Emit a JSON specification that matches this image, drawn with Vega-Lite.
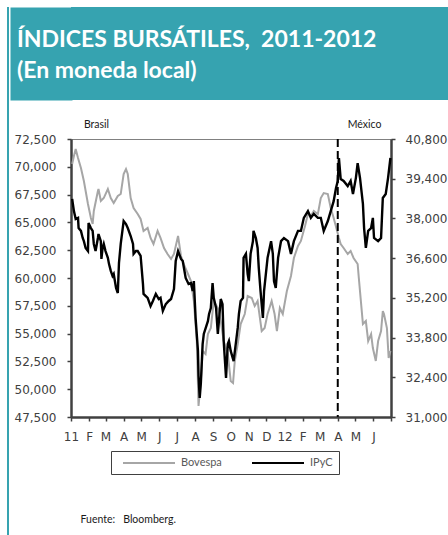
{
  "$schema": "https://vega.github.io/schema/vega-lite/v6.json",
  "background": "white",
  "padding": {"left": 7, "top": 7, "right": 0, "bottom": 0},
  "datasets": {
    "encabezado": [
      {"linea": 1, "texto": "ÍNDICES BURSÁTILES,\u00a0 2011-2012"},
      {"linea": 2, "texto": "(En moneda local)"}
    ],
    "bovespa": [
      {"fecha": "2011/01/03", "valor": 70250}, {"fecha": "2011/01/06", "valor": 70970}, {"fecha": "2011/01/09", "valor": 71600}, {"fecha": "2011/01/13", "valor": 70790},
      {"fecha": "2011/01/18", "valor": 69890}, {"fecha": "2011/01/23", "valor": 68720}, {"fecha": "2011/01/30", "valor": 66660}, {"fecha": "2011/02/04", "valor": 65400},
      {"fecha": "2011/02/07", "valor": 64860}, {"fecha": "2011/02/09", "valor": 66030}, {"fecha": "2011/02/16", "valor": 67820}, {"fecha": "2011/02/17", "valor": 68000},
      {"fecha": "2011/02/21", "valor": 66920}, {"fecha": "2011/02/26", "valor": 67190}, {"fecha": "2011/03/05", "valor": 68000}, {"fecha": "2011/03/10", "valor": 67190},
      {"fecha": "2011/03/15", "valor": 66740}, {"fecha": "2011/03/22", "valor": 67370}, {"fecha": "2011/03/27", "valor": 67550}, {"fecha": "2011/04/01", "valor": 69350},
      {"fecha": "2011/04/05", "valor": 69800}, {"fecha": "2011/04/08", "valor": 69350}, {"fecha": "2011/04/13", "valor": 67190}, {"fecha": "2011/04/18", "valor": 66300},
      {"fecha": "2011/04/25", "valor": 65760}, {"fecha": "2011/04/30", "valor": 65310}, {"fecha": "2011/05/05", "valor": 64230}, {"fecha": "2011/05/12", "valor": 64500},
      {"fecha": "2011/05/17", "valor": 63600}, {"fecha": "2011/05/22", "valor": 63060}, {"fecha": "2011/05/29", "valor": 64230}, {"fecha": "2011/06/03", "valor": 63600},
      {"fecha": "2011/06/09", "valor": 62700}, {"fecha": "2011/06/15", "valor": 62160}, {"fecha": "2011/06/21", "valor": 61710}, {"fecha": "2011/06/26", "valor": 62160},
      {"fecha": "2011/07/03", "valor": 63780}, {"fecha": "2011/07/08", "valor": 61980}, {"fecha": "2011/07/14", "valor": 61080}, {"fecha": "2011/07/20", "valor": 60360},
      {"fecha": "2011/07/25", "valor": 59730}, {"fecha": "2011/07/30", "valor": 57930}, {"fecha": "2011/08/04", "valor": 54330}, {"fecha": "2011/08/07", "valor": 48490},
      {"fecha": "2011/08/11", "valor": 50740}, {"fecha": "2011/08/14", "valor": 53440}, {"fecha": "2011/08/19", "valor": 53170}, {"fecha": "2011/08/23", "valor": 54960},
      {"fecha": "2011/08/28", "valor": 55500}, {"fecha": "2011/09/02", "valor": 57930}, {"fecha": "2011/09/09", "valor": 57300}, {"fecha": "2011/09/14", "valor": 56130},
      {"fecha": "2011/09/19", "valor": 54330}, {"fecha": "2011/09/26", "valor": 53170}, {"fecha": "2011/10/01", "valor": 50740}, {"fecha": "2011/10/05", "valor": 50560},
      {"fecha": "2011/10/08", "valor": 52540}, {"fecha": "2011/10/13", "valor": 54060}, {"fecha": "2011/10/18", "valor": 55860}, {"fecha": "2011/10/25", "valor": 56760},
      {"fecha": "2011/10/30", "valor": 58380}, {"fecha": "2011/11/06", "valor": 58200}, {"fecha": "2011/11/11", "valor": 57480}, {"fecha": "2011/11/16", "valor": 57930},
      {"fecha": "2011/11/23", "valor": 55230}, {"fecha": "2011/11/28", "valor": 55500}, {"fecha": "2011/12/03", "valor": 56760}, {"fecha": "2011/12/10", "valor": 57930},
      {"fecha": "2011/12/15", "valor": 56760}, {"fecha": "2011/12/19", "valor": 55230}, {"fecha": "2011/12/24", "valor": 57300}, {"fecha": "2011/12/29", "valor": 56760},
      {"fecha": "2012/01/05", "valor": 58830}, {"fecha": "2012/01/12", "valor": 60180}, {"fecha": "2012/01/17", "valor": 61800}, {"fecha": "2012/01/24", "valor": 62880},
      {"fecha": "2012/01/29", "valor": 63330}, {"fecha": "2012/02/05", "valor": 64680}, {"fecha": "2012/02/10", "valor": 65760}, {"fecha": "2012/02/15", "valor": 65580},
      {"fecha": "2012/02/20", "valor": 66030}, {"fecha": "2012/02/27", "valor": 65760}, {"fecha": "2012/03/03", "valor": 67190}, {"fecha": "2012/03/08", "valor": 67640},
      {"fecha": "2012/03/15", "valor": 67550}, {"fecha": "2012/03/20", "valor": 66300}, {"fecha": "2012/03/25", "valor": 65400}, {"fecha": "2012/03/30", "valor": 64410},
      {"fecha": "2012/04/03", "valor": 63600}, {"fecha": "2012/04/06", "valor": 63060}, {"fecha": "2012/04/11", "valor": 62700}, {"fecha": "2012/04/18", "valor": 62160},
      {"fecha": "2012/04/23", "valor": 62430}, {"fecha": "2012/04/28", "valor": 61800}, {"fecha": "2012/05/05", "valor": 61260}, {"fecha": "2012/05/07", "valor": 60000},
      {"fecha": "2012/05/14", "valor": 55860}, {"fecha": "2012/05/19", "valor": 56130}, {"fecha": "2012/05/23", "valor": 54330}, {"fecha": "2012/05/28", "valor": 54960},
      {"fecha": "2012/05/31", "valor": 53700}, {"fecha": "2012/06/05", "valor": 52540}, {"fecha": "2012/06/09", "valor": 54330}, {"fecha": "2012/06/14", "valor": 55230},
      {"fecha": "2012/06/17", "valor": 57030}, {"fecha": "2012/06/19", "valor": 56760}, {"fecha": "2012/06/24", "valor": 55500}, {"fecha": "2012/06/27", "valor": 52810},
      {"fecha": "2012/06/30", "valor": 53440}
    ],
    "ipyc": [
      {"fecha": "2011/01/03", "valor": 38690}, {"fecha": "2011/01/04", "valor": 38540}, {"fecha": "2011/01/06", "valor": 38260}, {"fecha": "2011/01/09", "valor": 37980},
      {"fecha": "2011/01/13", "valor": 38020}, {"fecha": "2011/01/14", "valor": 37660}, {"fecha": "2011/01/18", "valor": 37560}, {"fecha": "2011/01/21", "valor": 37310},
      {"fecha": "2011/01/23", "valor": 37200}, {"fecha": "2011/01/26", "valor": 36960}, {"fecha": "2011/01/30", "valor": 36850}, {"fecha": "2011/01/31", "valor": 37840},
      {"fecha": "2011/02/04", "valor": 37660}, {"fecha": "2011/02/07", "valor": 37560}, {"fecha": "2011/02/09", "valor": 37100}, {"fecha": "2011/02/12", "valor": 36850},
      {"fecha": "2011/02/16", "valor": 37310}, {"fecha": "2011/02/17", "valor": 37450}, {"fecha": "2011/02/21", "valor": 37200}, {"fecha": "2011/02/22", "valor": 36570},
      {"fecha": "2011/02/24", "valor": 36960}, {"fecha": "2011/02/26", "valor": 37100}, {"fecha": "2011/03/01", "valor": 36850}, {"fecha": "2011/03/05", "valor": 36610},
      {"fecha": "2011/03/07", "valor": 36390}, {"fecha": "2011/03/10", "valor": 36150}, {"fecha": "2011/03/13", "valor": 35970}, {"fecha": "2011/03/15", "valor": 36040},
      {"fecha": "2011/03/19", "valor": 35550}, {"fecha": "2011/03/22", "valor": 35370}, {"fecha": "2011/03/24", "valor": 36430}, {"fecha": "2011/03/27", "valor": 37100},
      {"fecha": "2011/04/01", "valor": 37910}, {"fecha": "2011/04/05", "valor": 37800}, {"fecha": "2011/04/08", "valor": 37660}, {"fecha": "2011/04/13", "valor": 37380},
      {"fecha": "2011/04/17", "valor": 37100}, {"fecha": "2011/04/18", "valor": 36750}, {"fecha": "2011/04/22", "valor": 36850}, {"fecha": "2011/04/25", "valor": 36850},
      {"fecha": "2011/04/30", "valor": 36680}, {"fecha": "2011/05/04", "valor": 35690}, {"fecha": "2011/05/05", "valor": 35340}, {"fecha": "2011/05/12", "valor": 35200},
      {"fecha": "2011/05/17", "valor": 34910}, {"fecha": "2011/05/21", "valor": 35090}, {"fecha": "2011/05/26", "valor": 35340}, {"fecha": "2011/05/31", "valor": 35160},
      {"fecha": "2011/06/03", "valor": 35200}, {"fecha": "2011/06/07", "valor": 34740}, {"fecha": "2011/06/12", "valor": 34980}, {"fecha": "2011/06/17", "valor": 35090},
      {"fecha": "2011/06/21", "valor": 35160}, {"fecha": "2011/06/26", "valor": 35510}, {"fecha": "2011/06/29", "valor": 36500}, {"fecha": "2011/07/03", "valor": 36850},
      {"fecha": "2011/07/08", "valor": 36570}, {"fecha": "2011/07/11", "valor": 36500}, {"fecha": "2011/07/16", "valor": 35900}, {"fecha": "2011/07/21", "valor": 35690},
      {"fecha": "2011/07/25", "valor": 35720}, {"fecha": "2011/07/28", "valor": 35440}, {"fecha": "2011/07/30", "valor": 35790}, {"fecha": "2011/08/02", "valor": 34490},
      {"fecha": "2011/08/06", "valor": 33330}, {"fecha": "2011/08/07", "valor": 32450}, {"fecha": "2011/08/09", "valor": 31670}, {"fecha": "2011/08/11", "valor": 32200},
      {"fecha": "2011/08/14", "valor": 33570}, {"fecha": "2011/08/16", "valor": 33930}, {"fecha": "2011/08/23", "valor": 34380}, {"fecha": "2011/08/25", "valor": 34630},
      {"fecha": "2011/08/28", "valor": 34840}, {"fecha": "2011/08/31", "valor": 35720}, {"fecha": "2011/09/02", "valor": 35200}, {"fecha": "2011/09/06", "valor": 34840},
      {"fecha": "2011/09/09", "valor": 33930}, {"fecha": "2011/09/14", "valor": 35160}, {"fecha": "2011/09/17", "valor": 34980}, {"fecha": "2011/09/19", "valor": 33680},
      {"fecha": "2011/09/23", "valor": 32380}, {"fecha": "2011/09/26", "valor": 33570}, {"fecha": "2011/09/28", "valor": 33680}, {"fecha": "2011/10/01", "valor": 33330},
      {"fecha": "2011/10/06", "valor": 32970}, {"fecha": "2011/10/13", "valor": 34140}, {"fecha": "2011/10/15", "valor": 34630}, {"fecha": "2011/10/18", "valor": 35090},
      {"fecha": "2011/10/22", "valor": 35200}, {"fecha": "2011/10/23", "valor": 36610}, {"fecha": "2011/10/27", "valor": 36750}, {"fecha": "2011/10/30", "valor": 36040},
      {"fecha": "2011/11/01", "valor": 35790}, {"fecha": "2011/11/04", "valor": 36750}, {"fecha": "2011/11/08", "valor": 37200}, {"fecha": "2011/11/09", "valor": 37560},
      {"fecha": "2011/11/13", "valor": 37310}, {"fecha": "2011/11/16", "valor": 36960}, {"fecha": "2011/11/18", "valor": 36250}, {"fecha": "2011/11/21", "valor": 35440},
      {"fecha": "2011/11/25", "valor": 34490}, {"fecha": "2011/11/27", "valor": 35440}, {"fecha": "2011/12/03", "valor": 36610}, {"fecha": "2011/12/09", "valor": 37200},
      {"fecha": "2011/12/12", "valor": 36750}, {"fecha": "2011/12/14", "valor": 35790}, {"fecha": "2011/12/17", "valor": 35550}, {"fecha": "2011/12/21", "valor": 36610},
      {"fecha": "2011/12/26", "valor": 37200}, {"fecha": "2011/12/31", "valor": 37310}, {"fecha": "2012/01/07", "valor": 37200}, {"fecha": "2012/01/12", "valor": 36750},
      {"fecha": "2012/01/17", "valor": 37200}, {"fecha": "2012/01/24", "valor": 37560}, {"fecha": "2012/01/29", "valor": 37560}, {"fecha": "2012/02/03", "valor": 38020},
      {"fecha": "2012/02/10", "valor": 38260}, {"fecha": "2012/02/15", "valor": 38020}, {"fecha": "2012/02/20", "valor": 38160}, {"fecha": "2012/02/27", "valor": 38020},
      {"fecha": "2012/03/03", "valor": 38020}, {"fecha": "2012/03/08", "valor": 37560}, {"fecha": "2012/03/15", "valor": 37910}, {"fecha": "2012/03/20", "valor": 38260},
      {"fecha": "2012/03/25", "valor": 38610}, {"fecha": "2012/03/29", "valor": 39070}, {"fecha": "2012/04/01", "valor": 39320}, {"fecha": "2012/04/03", "valor": 40130},
      {"fecha": "2012/04/06", "valor": 39390}, {"fecha": "2012/04/11", "valor": 39320}, {"fecha": "2012/04/18", "valor": 39140}, {"fecha": "2012/04/23", "valor": 39320},
      {"fecha": "2012/04/27", "valor": 38860}, {"fecha": "2012/05/02", "valor": 39430}, {"fecha": "2012/05/05", "valor": 39950}, {"fecha": "2012/05/09", "valor": 39430},
      {"fecha": "2012/05/14", "valor": 38510}, {"fecha": "2012/05/16", "valor": 37660}, {"fecha": "2012/05/19", "valor": 36960}, {"fecha": "2012/05/23", "valor": 37560},
      {"fecha": "2012/05/28", "valor": 37660}, {"fecha": "2012/05/31", "valor": 38020}, {"fecha": "2012/06/02", "valor": 37310}, {"fecha": "2012/06/09", "valor": 37200},
      {"fecha": "2012/06/14", "valor": 37310}, {"fecha": "2012/06/17", "valor": 38720}, {"fecha": "2012/06/22", "valor": 38860}, {"fecha": "2012/06/26", "valor": 39430},
      {"fecha": "2012/06/30", "valor": 40130}
    ],
    "marca": [{"fecha": "2012/04/01"}]
  },
  "hconcat": [
    {
      "width": 2,
      "height": 528,
      "view": {"stroke": null, "fill": "#36A3B0"},
      "data": {"values": [{}]},
      "mark": {"type": "rect", "color": "#36A3B0"}
    },
    {
      "concat": [
        {
          "width": 378,
          "height": 93,
          "view": {"stroke": null, "fill": "#36A3B0"},
          "data": {"name": "encabezado"},
          "mark": {"type": "text", "align": "left", "baseline": "alphabetic", "dx": -54, "font": "Lato", "fontSize": 23, "fontWeight": "bold", "color": "white"},
          "encoding": {
            "x": {"datum": 0, "type": "quantitative", "scale": {"domain": [0, 1]}, "axis": null},
            "y": {
              "field": "linea",
              "type": "ordinal",
              "scale": {"type": "point", "padding": 1.222, "align": 0.6515},
              "axis": {
                "orient": "left",
                "title": null,
                "labels": false,
                "ticks": false,
                "grid": false,
                "domain": true,
                "domainColor": "#36A3B0",
                "domainWidth": 62,
                "domainCap": "butt",
                "offset": 30
              }
            },
            "text": {"field": "texto"}
          }
        },
        {
          "width": 320,
          "height": 278,
          "encoding": {
            "x": {
              "field": "fecha",
              "type": "temporal",
              "scale": {"domain": [{"year": 2011, "month": 1, "date": 1}, {"year": 2012, "month": 7, "date": 1}], "nice": false},
              "axis": {
                "title": "Fuente:\u00a0\u00a0 Bloomberg.",
                "titleX": 9,
                "titleY": 105,
                "titleAlign": "left",
                "titleAngle": 0,
                "titleBaseline": "alphabetic",
                "titleFont": "Lato",
                "titleFontSize": 10.5,
                "titleFontWeight": "normal",
                "titleColor": "#1a1a1a",
                "tickCount": {"interval": "month", "step": 1},
                "labelExpr": "datum.value >= datetime(2012, 6, 1) ? '' : (month(datum.value) == 0 ? timeFormat(datum.value, '%y') : ['', 'F', 'M', 'A', 'M', 'J', 'J', 'A', 'S', 'O', 'N', 'D'][month(datum.value)])",
                "labelFlush": false,
                "labelOverlap": false,
                "labelPadding": 10
              }
            }
          },
          "layer": [
            {
              "data": {"name": "bovespa"},
              "mark": {"type": "line", "strokeWidth": 2},
              "encoding": {
                "y": {
                  "field": "valor",
                  "type": "quantitative",
                  "scale": {"domain": [47500, 72500], "nice": false, "zero": false},
                  "axis": {
                    "orient": "left",
                    "values": [47500, 50000, 52500, 55000, 57500, 60000, 62500, 65000, 67500, 70000, 72500],
                    "format": ",.0f",
                    "title": "Brasil",
                    "titleAngle": 0,
                    "titleX": 25,
                    "titleY": -10,
                    "titleAlign": "center",
                    "titleBaseline": "bottom",
                    "titleFont": "Lato",
                    "titleFontSize": 10.5,
                    "titleFontWeight": "normal",
                    "titleColor": "#1a1a1a",
                    "labelPadding": 11,
                    "minExtent": 61
                  }
                },
                "color": {
                  "datum": "Bovespa",
                  "type": "nominal",
                  "scale": {"domain": ["Bovespa", "IPyC"], "range": ["#A6A6A6", "#000000"]},
                  "legend": {
                    "orient": "none",
                    "legendX": 40,
                    "legendY": 312,
                    "direction": "horizontal",
                    "title": null,
                    "symbolType": "M0,0H10.4",
                    "symbolSize": 100,
                    "symbolStrokeWidth": 2,
                    "labelFont": "Lato",
                    "labelFontSize": 11,
                    "labelColor": "#595959",
                    "labelOffset": 52,
                    "columnPadding": 24,
                    "padding": 6,
                    "strokeColor": "#404040"
                  }
                }
              }
            },
            {
              "data": {"name": "ipyc"},
              "mark": {"type": "line", "strokeWidth": 2.4},
              "encoding": {
                "y": {
                  "field": "valor",
                  "type": "quantitative",
                  "scale": {"domain": [31000, 40800], "nice": false, "zero": false},
                  "axis": {
                    "orient": "right",
                    "values": [31000, 32400, 33800, 35200, 36600, 38000, 39400, 40800],
                    "format": ",.0f",
                    "title": "México",
                    "titleAngle": 0,
                    "titleX": -27,
                    "titleY": -10,
                    "titleAlign": "center",
                    "titleBaseline": "bottom",
                    "titleFont": "Lato",
                    "titleFontSize": 10.5,
                    "titleFontWeight": "normal",
                    "titleColor": "#1a1a1a",
                    "labelPadding": 10
                  }
                },
                "color": {"datum": "IPyC", "type": "nominal"}
              }
            },
            {
              "data": {"name": "marca"},
              "mark": {"type": "rule", "strokeDash": [8, 4], "strokeWidth": 2, "color": "#000000"},
              "encoding": {}
            }
          ],
          "resolve": {"scale": {"y": "independent"}}
        }
      ],
      "columns": 1,
      "align": "none",
      "spacing": 18,
      "resolve": {"scale": {"color": "independent"}, "legend": {"color": "independent"}}
    }
  ],
  "spacing": 0,
  "resolve": {"scale": {"color": "independent"}, "legend": {"color": "independent"}},
  "config": {
    "view": {"stroke": "#808080", "strokeWidth": 1},
    "font": "DejaVu Sans",
    "axis": {
      "grid": false,
      "domainColor": "#404040",
      "domainWidth": 2.5,
      "tickColor": "#404040",
      "tickWidth": 1.5,
      "tickSize": 4,
      "labelFont": "DejaVu Sans",
      "labelFontSize": 12,
      "labelColor": "#404040"
    }
  }
}
